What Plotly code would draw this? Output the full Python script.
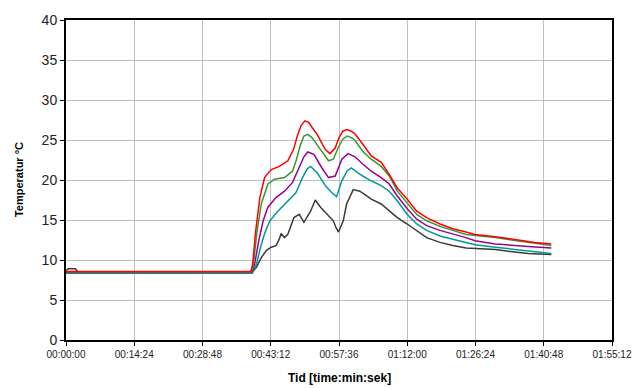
import plotly.graph_objects as go

# time in minutes, temperature in °C
red_t = [0, 39.0, 39.4, 40.0, 40.9, 41.9, 43.3, 45.0, 46.8, 48.0, 48.8, 49.6, 50.4, 51.2, 52.0, 53.0, 54.7, 55.7, 56.8, 57.6, 58.4, 59.3, 60.2, 60.9, 62.6, 64.4, 66.5, 68.2, 69.9, 72.0, 74.0, 76.1, 78.9, 81.6, 84.4, 86.3, 90.6, 94.8, 98.9, 102.4]
red_v = [8.55, 8.55, 9.5, 13.5, 17.8, 20.3, 21.3, 21.7, 22.4, 23.8, 25.5, 26.8, 27.4, 27.2, 26.5, 25.7, 23.8, 23.3, 24.0, 25.3, 26.1, 26.3, 26.1, 25.8, 24.5, 23.0, 22.2, 20.7, 19.0, 17.6, 16.1, 15.3, 14.5, 13.9, 13.5, 13.2, 12.9, 12.5, 12.2, 12.0]

green_t = [0, 39.1, 39.5, 40.3, 41.2, 42.6, 44.0, 46.1, 47.8, 48.6, 49.4, 50.2, 51.0, 51.9, 53.7, 55.4, 56.4, 57.4, 58.4, 59.3, 60.2, 60.9, 62.6, 64.4, 66.5, 68.2, 69.9, 72.0, 74.0, 76.1, 78.9, 81.6, 84.4, 90.6, 97.5, 102.4]
green_v = [8.5, 8.5, 9.3, 13.5, 17.0, 19.5, 20.1, 20.3, 21.1, 22.5, 24.3, 25.5, 25.7, 25.3, 23.8, 22.4, 22.6, 24.0, 25.1, 25.5, 25.3, 25.0, 23.6, 22.6, 21.7, 20.5, 18.6, 17.1, 15.7, 14.9, 14.2, 13.7, 13.2, 12.8, 12.2, 11.8]

purple_t = [0, 39.2, 39.8, 40.7, 41.6, 42.6, 44.3, 46.1, 47.8, 49.2, 50.2, 51.0, 52.3, 54.0, 55.4, 56.8, 58.2, 59.5, 61.0, 62.6, 64.4, 66.5, 68.2, 69.9, 72.0, 74.0, 76.1, 78.9, 81.6, 84.4, 86.3, 90.6, 97.5, 102.4]
purple_v = [8.45, 8.45, 9.5, 12.5, 14.9, 16.6, 17.8, 18.6, 19.7, 21.5, 22.9, 23.5, 23.2, 21.5, 20.3, 20.5, 22.6, 23.3, 22.9, 22.0, 21.1, 20.3, 19.5, 18.0, 16.4, 15.1, 14.3, 13.7, 13.3, 12.8, 12.4, 12.0, 11.7, 11.5]

teal_t = [0, 39.3, 40.2, 41.0, 41.9, 43.0, 44.7, 46.8, 48.5, 49.9, 50.9, 51.6, 53.0, 54.7, 56.1, 57.1, 58.2, 59.3, 60.2, 61.6, 62.6, 64.4, 66.5, 68.2, 69.9, 72.0, 74.0, 76.1, 78.9, 81.6, 84.4, 86.3, 90.6, 97.5, 102.4]
teal_v = [8.35, 8.35, 9.5, 11.5, 13.3, 14.9, 16.1, 17.4, 18.4, 20.3, 21.4, 21.7, 20.9, 19.3, 18.4, 17.9, 19.9, 21.1, 21.5, 20.9, 20.5, 19.9, 19.3, 18.6, 17.4, 15.7, 14.5, 13.7, 13.0, 12.6, 12.2, 11.9, 11.6, 11.1, 10.8]

black_t = [0, 0.5, 2.0, 2.5, 39.3, 40.2, 41.2, 42.3, 43.3, 44.3, 45.0, 45.4, 46.1, 46.8, 47.4, 48.1, 49.2, 50.2, 51.6, 52.6, 53.7, 55.1, 56.4, 57.0, 57.5, 58.5, 59.2, 60.6, 62.0, 63.0, 64.4, 66.5, 68.2, 69.9, 72.0, 74.0, 76.1, 78.9, 81.6, 84.4, 90.6, 97.5, 102.4]
black_v = [8.7, 8.9, 8.9, 8.5, 8.45, 9.1, 10.3, 11.2, 11.6, 11.8, 12.6, 13.3, 12.8, 13.2, 14.2, 15.3, 15.7, 14.7, 16.1, 17.5, 16.6, 15.7, 14.9, 14.0, 13.5, 14.9, 17.0, 18.8, 18.6, 18.2, 17.6, 17.0, 16.1, 15.3, 14.5, 13.7, 12.8, 12.2, 11.8, 11.5, 11.3, 10.8, 10.7]

x_tickvals = [0, 14.4, 28.8, 43.2, 57.6, 72.0, 86.4, 100.8, 115.2]
x_ticktext = ["00:00:00", "00:14:24", "00:28:48", "00:43:12", "00:57:36", "01:12:00", "01:26:24", "01:40:48", "01:55:12"]
y_tickvals = [0, 5, 10, 15, 20, 25, 30, 35, 40]

series = [
    (black_t, black_v, "#3a3a3a"),
    (teal_t, teal_v, "#009999"),
    (purple_t, purple_v, "#990099"),
    (green_t, green_v, "#339933"),
    (red_t, red_v, "#ff0000"),
]

fig = go.Figure()
for t, v, c in series:
    fig.add_trace(go.Scatter(x=t, y=v, mode="lines", line=dict(color=c, width=1.5), showlegend=False))

fig.update_layout(
    width=644, height=388,
    margin=dict(l=66, r=22, t=18, b=48),
    paper_bgcolor="white", plot_bgcolor="white",
    font=dict(family="Liberation Sans, Arial, sans-serif", color="black"),
)
fig.update_xaxes(
    range=[0, 115.2], tickvals=x_tickvals, ticktext=x_ticktext,
    tickfont=dict(size=10, color="#222222"), showgrid=True, gridcolor="#c0c0c0", gridwidth=1,
    showline=True, linecolor="black", linewidth=2, mirror=True,
    ticks="outside", ticklen=4, tickcolor="black", zeroline=False,
)
fig.update_yaxes(
    range=[0, 40], tickvals=y_tickvals,
    tickfont=dict(size=14, color="#222222"), showgrid=True, gridcolor="#c0c0c0", gridwidth=1,
    showline=True, linecolor="black", linewidth=2, mirror=True,
    ticks="outside", ticklen=4, tickcolor="black", zeroline=False,
)
fig.add_annotation(text="<b>Temperatur °C</b>", xref="paper", yref="paper", x=-0.086, y=0.5,
                   textangle=-90, showarrow=False, font=dict(size=11), xanchor="center", yanchor="middle")
fig.add_annotation(text="<b>Tid [time:min:sek]</b>", xref="paper", yref="paper", x=0.5, y=-0.118,
                   showarrow=False, font=dict(size=12), xanchor="center", yanchor="middle")

fig.write_html("out.html")
